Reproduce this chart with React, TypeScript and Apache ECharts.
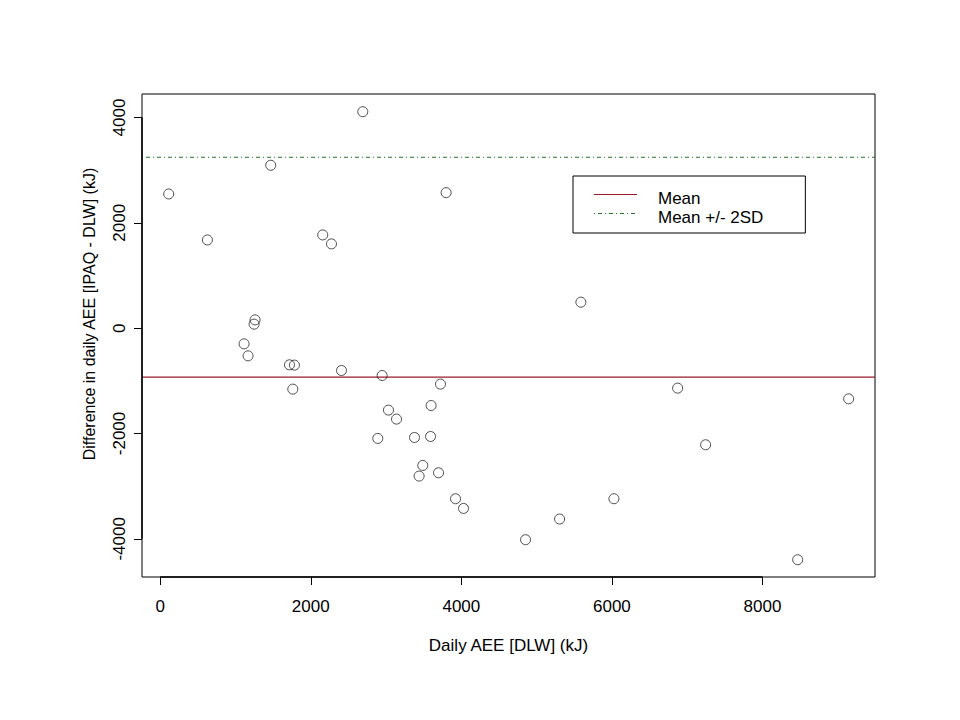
import React, { useEffect, useRef } from "react";
import * as echarts from "echarts";

const xTicks = [0, 2000, 4000, 6000, 8000];
const yTicks = [-4000, -2000, 0, 2000, 4000];

const dailyAeeDlw = [
  113, 627, 1468, 2691, 2159, 2275, 3798, 1260, 1247, 1114, 1167, 1717,
  1783, 1761, 2408, 2948, 3723, 3032, 3139, 3599, 2890, 3378, 3591, 3488,
  3439, 3697, 3923, 4029, 5588, 6873, 9145, 7245, 6027, 5305, 4853, 8468,
];
const diffIpaqDlw = [
  2548, 1675, 3093, 4110, 1770, 1600, 2573, 157, 76, -298, -526, -696,
  -702, -1158, -804, -899, -1063, -1556, -1727, -1469, -2094, -2076, -2057, -2607,
  -2809, -2746, -3239, -3423, 493, -1139, -1342, -2214, -3239, -3624, -4017, -4397,
];
const meanDiff = -930;
const twoSd = 4175;

const X_MIN = -242;
const X_MAX = 9495;
const Y_MIN = -4725;
const Y_MAX = 4446;

const FONT = "'Liberation Sans', Arial, sans-serif";
const DOTDASH = [1, 3, 4, 3];

export default function App() {
  const ref = useRef<HTMLDivElement>(null);
  useEffect(() => {
    if (!ref.current) return;
    const chart = echarts.init(ref.current, null, { renderer: "svg" });
    const points = dailyAeeDlw.map((x, i) => [x, diffIpaqDlw[i]]);
    const red = "#9A1A2A";
    const green = "#1F7A1F";
    chart.setOption({
      animation: false,
      backgroundColor: "#ffffff",
      textStyle: { fontFamily: FONT },
      grid: {
        left: 142,
        top: 94,
        right: 85,
        bottom: 143,
        show: true,
        borderColor: "#000",
        borderWidth: 1,
        backgroundColor: "transparent",
        outerBoundsMode: "none",
      },
      graphic: [
        {
          type: "text",
          x: 89,
          y: 314,
          rotation: Math.PI / 2,
          style: {
            text: "Difference in daily AEE [IPAQ - DLW] (kJ)",
            fontFamily: FONT,
            fontSize: 16,
            fill: "#000",
            align: "center",
            verticalAlign: "middle",
          },
        },
        {
          type: "line",
          z: 100,
          silent: true,
          shape: { x1: 594, y1: 194.5, x2: 637, y2: 194.5 },
          style: { stroke: red, lineWidth: 1.2 },
        },
        {
          type: "line",
          z: 100,
          silent: true,
          shape: { x1: 594, y1: 213.5, x2: 637, y2: 213.5 },
          style: { stroke: green, lineWidth: 1.2, lineDash: DOTDASH },
        },
      ],
      legend: {
        orient: "vertical",
        left: 573,
        top: 176,
        data: [
          { name: "Mean", icon: "none" },
          { name: "Mean +/- 2SD", icon: "none" },
        ],
        itemWidth: 43,
        itemHeight: 2,
        itemGap: 0,
        padding: [13, 42, 6, 21],
        borderColor: "#000",
        borderWidth: 1,
        backgroundColor: "#fff",
        selectedMode: false,
        textStyle: {
          fontFamily: FONT,
          fontSize: 17,
          color: "#000",
          lineHeight: 19,
          padding: [0, 0, 0, 16],
        },
      },
      xAxis: {
        type: "value",
        min: X_MIN,
        max: X_MAX,
        name: "Daily AEE [DLW] (kJ)",
        nameLocation: "middle",
        nameGap: 60,
        nameTextStyle: { fontFamily: FONT, fontSize: 17, color: "#000" },
        axisLine: { show: false, onZero: false },
        splitLine: { show: false },
        axisTick: {
          show: true,
          inside: false,
          length: 8,
          customValues: xTicks,
          lineStyle: { color: "#000", width: 1 },
        },
        axisLabel: {
          customValues: xTicks,
          margin: 21,
          fontFamily: FONT,
          fontSize: 17,
          color: "#000",
          formatter: (v: number) => String(v),
        },
      },
      yAxis: {
        type: "value",
        min: Y_MIN,
        max: Y_MAX,
        axisLine: { show: false, onZero: false },
        splitLine: { show: false },
        axisTick: {
          show: true,
          inside: false,
          length: 8,
          customValues: yTicks,
          lineStyle: { color: "#000", width: 1 },
        },
        axisLabel: {
          customValues: yTicks,
          rotate: 90,
          margin: 14,
          fontFamily: FONT,
          fontSize: 17,
          color: "#000",
          formatter: (v: number) => String(v),
        },
      },
      series: [
        {
          name: "axisX",
          type: "line",
          data: [
            [xTicks[0], Y_MIN],
            [xTicks[xTicks.length - 1], Y_MIN],
          ],
          symbol: "none",
          silent: true,
          clip: false,
          lineStyle: { color: "#000", width: 1.5 },
          z: 5,
        },
        {
          name: "axisY",
          type: "line",
          data: [
            [X_MIN, yTicks[0]],
            [X_MIN, yTicks[yTicks.length - 1]],
          ],
          symbol: "none",
          silent: true,
          clip: false,
          lineStyle: { color: "#000", width: 1.5 },
          z: 5,
        },
        {
          name: "Mean",
          type: "line",
          data: [
            [X_MIN, meanDiff],
            [X_MAX, meanDiff],
          ],
          symbol: "none",
          silent: true,
          lineStyle: { color: red, width: 1.2 },
          itemStyle: { color: red },
        },
        {
          name: "Mean +/- 2SD",
          type: "line",
          data: [
            [X_MIN, meanDiff + twoSd],
            [X_MAX, meanDiff + twoSd],
          ],
          symbol: "none",
          silent: true,
          lineStyle: { color: green, width: 1.2, type: DOTDASH },
          itemStyle: { color: green },
        },
        {
          name: "Mean +/- 2SD",
          type: "line",
          data: [
            [X_MIN, meanDiff - twoSd],
            [X_MAX, meanDiff - twoSd],
          ],
          symbol: "none",
          silent: true,
          clip: true,
          lineStyle: { color: green, width: 1.2, type: DOTDASH },
          itemStyle: { color: green },
        },
        {
          name: "Observations",
          type: "scatter",
          data: points,
          symbol: "circle",
          symbolSize: 10,
          itemStyle: {
            color: "rgba(0,0,0,0)",
            borderColor: "#222",
            borderWidth: 1,
          },
          z: 10,
        },
      ],
    });
    return () => chart.dispose();
  }, []);
  return (
    <div
      ref={ref}
      style={{
        position: "fixed",
        left: 0,
        top: 0,
        width: 960,
        height: 720,
        background: "#fff",
      }}
    />
  );
}
